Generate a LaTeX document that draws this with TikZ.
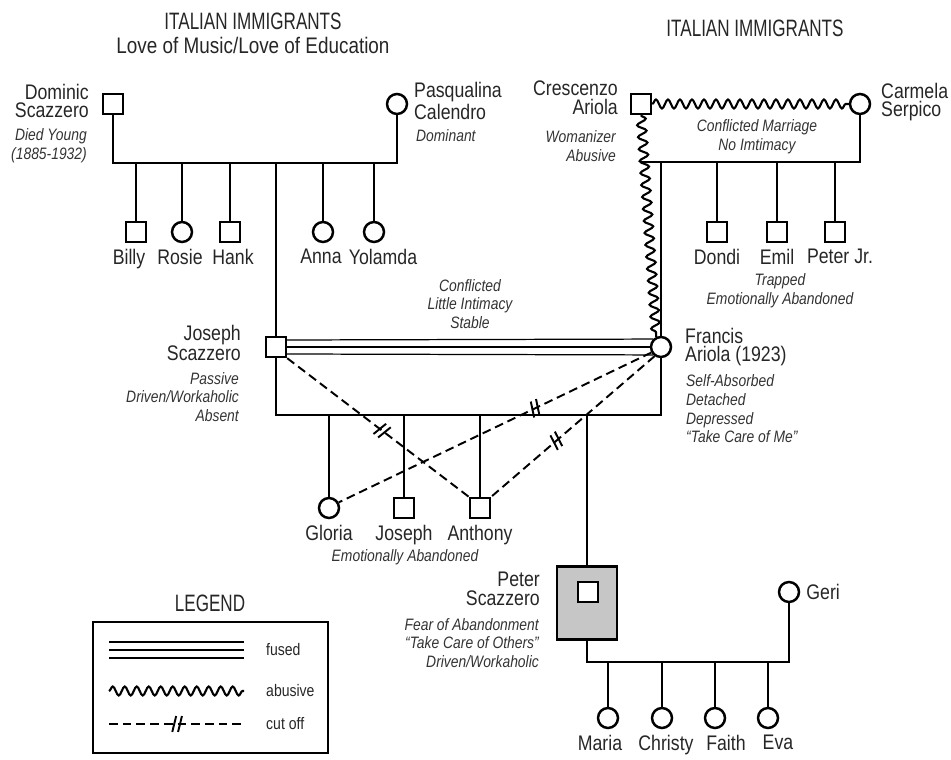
\documentclass[tikz,border=0pt]{standalone}
\usepackage{fontspec}
\setmainfont{Liberation Sans}[FakeStretch=0.84]
\newfontfamily\capsfont{Liberation Sans}[FakeStretch=0.72]
\usetikzlibrary{positioning,decorations.pathmorphing,decorations.markings}

\tikzset{
  male/.style={draw, rectangle, minimum size=0.4cm, inner sep=0pt, line width=1.4pt, fill=white},
  female/.style={draw, circle, minimum size=0.4cm, inner sep=0pt, line width=1.4pt, fill=white},
  tie/.style={line width=1.5pt},
  fused/.style={line width=0.7pt},
  abusive/.style={line width=1.2pt, decorate, decoration={snake, segment length=0.24cm, amplitude=0.09cm}},
  cutoff/.style={line width=1.1pt, dash pattern=on 5pt off 2.8pt,
    postaction={decorate, decoration={markings, mark=at position #1 with
      {\draw[solid, line width=1.1pt] (-2.4pt,-4.5pt) -- (-0.2pt,4.5pt) (0.9pt,-4.5pt) -- (3.1pt,4.5pt);}}}},
  who/.style={font=\fontsize{12}{10.6}\selectfont, text=black!85},
  note/.style={font=\fontsize{9.4}{10.6}\selectfont\itshape, text=black!80},
  title/.style={font=\capsfont\fontsize{13.5}{14.5}\selectfont, text=black!85},
  subtitle/.style={font=\fontsize{12.8}{14}\selectfont, text=black!85},
  key/.style={font=\fontsize{9.5}{11}\selectfont, anchor=west, text=black!85},
}

\begin{document}
\begin{tikzpicture}[x=0.02cm, y=-0.02cm]
  \useasboundingbox (0,0) rectangle (951,760);

  % Заголовки
  \node[title] (titleL) at (253,21) {ITALIAN IMMIGRANTS};
  \node[subtitle] (subL) at (253,45) {Love of Music/Love of Education};
  \node[title] (titleR) at (755,28) {ITALIAN IMMIGRANTS};

  % Scazzero -- Calendro
  \node[male] (dom) at (113,104) {};
  \node[female] (pas) at (397,104) {};
  \node[who, anchor=east, align=right] (domT) at (95,101) {Dominic\\Scazzero};
  \node[note, anchor=east, align=right] (domN) at (93,146) {Died Young\\(1885-1932)};
  \node[who, anchor=west, align=left] (pasT) at (408,101) {Pasqualina\\Calendro};
  \node[note, anchor=west] (pasN) at (410,136) {Dominant};
  \coordinate (barA) at (0,163);
  \draw[tie] (dom) -- (dom |- barA) -- (pas |- barA) -- (pas);
  \foreach \id/\x/\dx/\txt in {billy/136/-7/Billy, hank/230/3/Hank} {
    \node[male, label={[who, xshift=\dx*0.02cm]below:\txt}] (\id) at (\x,232) {};
    \draw[tie] (\id) -- (\id |- barA);
  }
  \foreach \id/\x/\dx/\txt in {rosie/182/-2/Rosie, anna/323/-2/Anna, yolamda/374/9/Yolamda} {
    \node[female, label={[who, xshift=\dx*0.02cm]below:\txt}] (\id) at (\x,232) {};
    \draw[tie] (\id) -- (\id |- barA);
  }

  % Ariola -- Serpico
  \node[male] (cres) at (641,104) {};
  \node[female] (carm) at (860,104) {};
  \node[who, anchor=east, align=right] (cresT) at (624,98) {Crescenzo\\Ariola};
  \node[note, anchor=east, align=right] (cresN) at (622,146) {Womanizer\\Abusive};
  \node[who, anchor=west, align=left] (carmT) at (875,102) {Carmela\\Serpico};
  \draw[abusive] (cres) -- (carm);
  \coordinate (barB) at (0,162);
  \draw[tie] (cres.south |- barB) -- (carm |- barB) -- (carm);
  \node[note, align=center] (cresM) at (757,137) {Conflicted Marriage\\No Imtimacy};
  \foreach \id/\x/\dx/\txt in {dondi/717/0/Dondi, emil/777/0/Emil, peterjr/835/5/Peter Jr.} {
    \node[male, label={[who, xshift=\dx*0.02cm]below:\txt}] (\id) at (\x,232) {};
    \draw[tie] (\id) -- (\id |- barB);
  }
  \node[note, align=center] (ariolaN) at (780,291) {Trapped\\Emotionally Abandoned};

  % Joseph -- Francis
  \node[male] (jos) at (276,347) {};
  \node[female] (fran) at (661,347) {};
  \draw[tie] (jos) -- (jos |- barA);
  \draw[tie] (fran) -- (fran |- barB);
  \draw[abusive] (cres.south) -- (fran.115);
  \draw[fused] ([yshift=0.14cm]jos.east) -- (fran.135);
  \draw[fused] (jos.east) -- (fran.west);
  \draw[fused] ([yshift=-0.14cm]jos.east) -- (fran.225);
  \node[note, align=center] (josM) at (470,304) {Conflicted\\Little Intimacy\\Stable};
  \node[who, anchor=east, align=right] (josT) at (247,343) {Joseph\\Scazzero};
  \node[note, anchor=east, align=right] (josN) at (245,397) {Passive\\Driven/Workaholic\\Absent};
  \node[who, anchor=west, align=left] (franT) at (679,347) {Francis\\Ariola (1923)};
  \node[note, anchor=west, align=left] (franN) at (680,409) {Self-Absorbed\\Detached\\Depressed\\“Take Care of Me”};
  \coordinate (barC) at (0,415);
  \draw[tie] (jos) -- (jos |- barC) -- (fran |- barC) -- (fran);
  \node[female, label={[who]below:Gloria}] (gloria) at (329,508) {};
  \node[male, label={[who]below:Joseph}] (joseph) at (404,508) {};
  \node[male, label={[who]below:Anthony}] (anthony) at (480,508) {};
  \foreach \id in {gloria, joseph, anthony}
    \draw[tie] (\id) -- (\id |- barC);
  \node[note] (kidsN) at (405,557) {Emotionally Abandoned};

  % Разрывы
  \draw[cutoff=0.52] (jos.south east) -- (anthony.north west);
  \draw[cutoff=0.37] (fran.210) -- (gloria.30);
  \draw[cutoff=0.6] (fran.235) -- (anthony.north east);

  % Peter -- Geri
  \node[draw, line width=1.4pt, fill=gray!45, minimum width=1.2cm, minimum height=1.46cm, inner sep=0pt] (peterBox) at (587,603) {};
  \node[male] (peter) at (588,592) {};
  \draw[tie] (peterBox) -- (peterBox |- barC);
  \node[who, anchor=east, align=right] (peterT) at (546,589) {Peter\\Scazzero};
  \node[note, anchor=east, align=right] (peterN) at (545,643) {Fear of Abandonment\\“Take Care of Others”\\Driven/Workaholic};
  \node[female, label={[who]right:Geri}] (geri) at (789,592) {};
  \coordinate (barD) at (0,662);
  \draw[tie] (peterBox) -- (peterBox |- barD) -- (geri |- barD) -- (geri);
  \foreach \id/\x/\dx/\txt in {maria/608/-8/Maria, christy/662/4/Christy, faith/715/11/Faith, eva/768/10/Eva} {
    \node[female, label={[who, xshift=\dx*0.02cm]below:\txt}] (\id) at (\x,718) {};
    \draw[tie] (\id) -- (\id |- barD);
  }

  % Легенда
  \node[title] (legT) at (210,603) {LEGEND};
  \node[draw, line width=1.4pt, minimum width=4.7cm, minimum height=2.62cm, inner sep=0pt] (legend) at (210.5,687.5) {};
  \coordinate (fusA) at (109,650);
  \coordinate (fusB) at (244,650);
  \draw[fused] ([yshift=0.16cm]fusA) -- ([yshift=0.16cm]fusB);
  \draw[fused] (fusA) -- (fusB);
  \draw[fused] ([yshift=-0.16cm]fusA) -- ([yshift=-0.16cm]fusB);
  \node[key] (fusT) at (260,650) {fused};
  \coordinate (abuA) at (109,691);
  \coordinate (abuB) at (244,691);
  \draw[abusive] (abuA) -- (abuB);
  \node[key] (abuT) at (260,691) {abusive};
  \coordinate (cutA) at (109,724);
  \coordinate (cutB) at (244,724);
  \draw[cutoff=0.5] (cutA) -- (cutB);
  \node[key] (cutT) at (260,724) {cut off};
\end{tikzpicture}
\end{document}
